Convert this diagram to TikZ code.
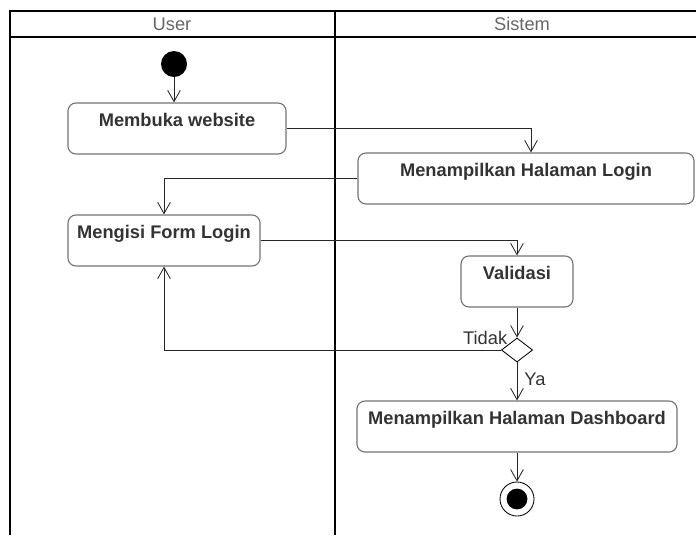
\documentclass[tikz,border=0pt]{standalone}
\usepackage{fontspec}
\setmainfont{Liberation Sans}
\usepackage{tikz}
\usetikzlibrary{shapes.geometric,arrows.meta,positioning}

\begin{document}
\begin{tikzpicture}[
    x=0.025cm, y=0.025cm,
    lane/.style={line width=1.6pt, black},
    lanetitle/.style={font=\fontsize{13}{15}\selectfont, text=black!60},
    box/.style={rectangle, rounded corners=0.2cm, draw=black!55, line width=0.8pt, minimum height=1.275cm, inner ysep=0.1cm, text height=0.475cm, text depth=0.6cm, align=center, font=\fontsize{13}{15}\selectfont\bfseries, text=black!80},
    startnode/.style={circle, fill=black, minimum size=0.65cm, inner sep=0pt},
    endnode/.style={circle, draw, line width=0.6pt, minimum size=0.85cm, inner sep=0pt, path picture={\fill (path picture bounding box.center) circle (0.26cm);}},
    decision/.style={diamond, draw, minimum width=0.78cm, minimum height=0.6cm, inner sep=0pt, line width=0.6pt},
    guard/.style={font=\fontsize{13}{15}\selectfont, text=black!80, inner sep=1pt},
    arrow/.style={-{Straight Barb[length=8pt,width=9pt]}, line width=0.6pt, black!85}
]
\useasboundingbox (0,0) rectangle (696,-535);

% Swimlanes
\draw[lane] (10,-535) -- (10,-11) -- (696,-11);
\draw[lane] (10,-37) -- (696,-37);
\draw[lane] (335,-11) -- (335,-535);
\node[lanetitle] (userlane) at (172,-24) {User};
\node[lanetitle] (sistemlane) at (522,-24) {Sistem};

% User
\node[startnode] (start) at (174,-64) {};
\node[box, minimum width=5.45cm] (membuka) at (177,-128.5) {Membuka website};
\node[box, minimum width=4.8cm] (mengisi) at (164,-240.5) {Mengisi Form Login};

% Sistem
\node[box, minimum width=8.4cm] (login) at (526,-178.5) {Menampilkan Halaman Login};
\node[box, minimum width=2.8cm] (validasi) at (517,-281.5) {Validasi};
\node[decision, below=0.75cm of validasi] (decision) {};
\node[box, minimum width=8cm, below=0.95cm of decision] (dashboard) {Menampilkan Halaman Dashboard};
\node[endnode, below=0.725cm of dashboard] (end) {};

% Arrows
\draw[arrow] (start) -- (start |- membuka.north);
\draw[arrow] (membuka.east) -| ([xshift=0.125cm]login.north);
\draw[arrow] (login.west) -| (mengisi.north);
\draw[arrow] (mengisi.east) -| (validasi.north);
\draw[arrow] (validasi) -- (decision);
\draw[arrow] (decision.west) node[guard, above left, xshift=0.2cm, yshift=0.1cm] {Tidak} -| (mengisi.south);
\draw[arrow] (decision) -- node[guard, right, xshift=0.14cm, yshift=0.05cm] {Ya} (dashboard);
\draw[arrow] (dashboard) -- (end);

\end{tikzpicture}
\end{document}
